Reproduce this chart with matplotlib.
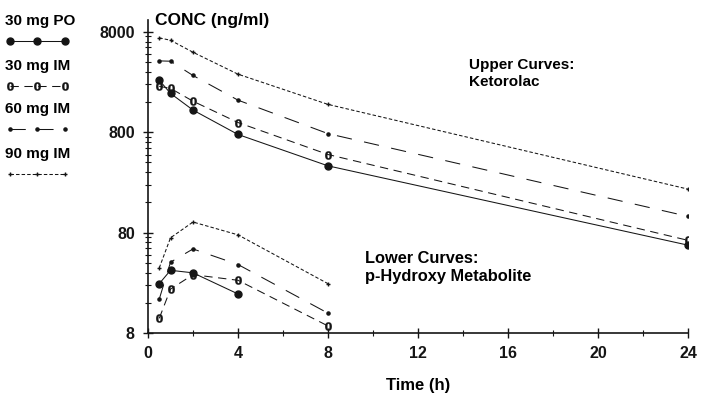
import matplotlib
matplotlib.use("Agg")
import matplotlib.pyplot as plt
from matplotlib.ticker import FixedLocator, NullFormatter

plt.rcParams['font.family'] = ['Liberation Sans', 'DejaVu Sans']
plt.rcParams['font.weight'] = 'bold'
plt.rcParams['lines.scale_dashes'] = False

# ---- data ----
time_upper = [0.5, 1, 2, 4, 8, 24]
ket_po30 = [2640, 1950, 1330, 760, 370, 60]
ket_im30 = [2290, 2190, 1630, 1000, 480, 67]
ket_im60 = [4110, 4080, 2940, 1670, 775, 116]
ket_im90 = [6970, 6600, 5010, 3030, 1515, 217]

time_met_po = [0.5, 1, 2, 4]
met_po30 = [24.8, 33.7, 31.8, 19.6]
time_lower = [0.5, 1, 2, 4, 8]
met_im30 = [11.2, 21.9, 30.5, 26.8, 9.4]
met_im60 = [17.4, 40.6, 55, 38.5, 12.6]
met_im90 = [35.6, 71, 102, 76, 24.8]

y_major = [8, 80, 800, 8000]
y_major_labels = ['8', '80', '800', '8000']
x_major = [0, 4, 8, 12, 16, 20, 24]
x_minor = [2, 6, 10, 14, 18, 22]
series_labels = ['30 mg PO', '30 mg IM', '60 mg IM', '90 mg IM']

# ---- styles ----
col = '#151515'
styles = [
    dict(linestyle='-', marker='o', ms=5, mfc=col, mec=col),
    dict(linestyle=(0, (6, 4)), marker='$0$', ms=6, mfc=col, mec=col, mew=0.2),
    dict(linestyle=(0, (11, 9)), marker='.', ms=4.5, mfc=col, mec=col),
    dict(linestyle=(0, (2.5, 1.5)), marker='+', ms=3.5, mec=col, mew=1.0),
]

fig = plt.figure(figsize=(7.04, 3.94), dpi=100)
ax = fig.add_axes([148/704, (394-333)/394, (688-148)/704, (333-20)/394])

upper = [ket_po30, ket_im30, ket_im60, ket_im90]
lower = [(time_met_po, met_po30), (time_lower, met_im30),
         (time_lower, met_im60), (time_lower, met_im90)]

handles = []
for i in range(4):
    h, = ax.plot(time_upper, upper[i], color=col, lw=0.75, **styles[i])
    ax.plot(lower[i][0], lower[i][1], color=col, lw=0.75, **styles[i])
    handles.append(h)

ax.set_yscale('log')
ax.set_ylim(8, 10500)
ax.set_xlim(0, 24)

ax.yaxis.set_major_locator(FixedLocator(y_major))
ax.set_yticklabels(y_major_labels)
minor = [8 * m * 10**k for k in range(3) for m in range(2, 10)]
ax.yaxis.set_minor_locator(FixedLocator(minor))
ax.yaxis.set_minor_formatter(NullFormatter())
ax.set_xticks(x_major)
ax.set_xticks(x_minor, minor=True)

for s in ['top', 'right']:
    ax.spines[s].set_visible(False)
for s in ['left', 'bottom']:
    ax.spines[s].set_linewidth(1.2)
    ax.spines[s].set_color(col)

ax.tick_params(axis='both', which='major', direction='inout', length=7, width=1.0,
               labelsize=11.5, pad=6, colors=col)
ax.tick_params(axis='both', which='minor', direction='inout', length=5, width=0.8, colors=col)
for lab in ax.get_xticklabels() + ax.get_yticklabels():
    lab.set_fontweight('bold')

ax.set_xlabel('Time (h)', fontsize=12, fontweight='bold', labelpad=12)

ax.text(0.013, 1.0, 'CONC (ng/ml)', transform=ax.transAxes, fontsize=12.5,
        fontweight='bold', va='center', ha='left')
ax.text(0.595, 0.83, 'Upper Curves:\nKetorolac', transform=ax.transAxes,
        fontsize=11, fontweight='bold', va='center', ha='left', linespacing=1.3)
ax.text(0.402, 0.21, 'Lower Curves:\np-Hydroxy Metabolite', transform=ax.transAxes,
        fontsize=11.8, fontweight='bold', va='center', ha='left', linespacing=1.25)

# legends: title above each sample
leg_y = [0.99, 0.875, 0.765, 0.652]
for i in range(4):
    lg = fig.legend(handles=[handles[i]], labels=[''], title=series_labels[i],
                    loc='upper left', bbox_to_anchor=(-0.006, leg_y[i]),
                    frameon=False, handlelength=4.6, numpoints=3,
                    handletextpad=0, borderpad=0.2, title_fontsize=11)
    lg.get_title().set_fontweight('bold')
    lg._legend_box.align = 'left'

fig.savefig('out.png', dpi=100)
